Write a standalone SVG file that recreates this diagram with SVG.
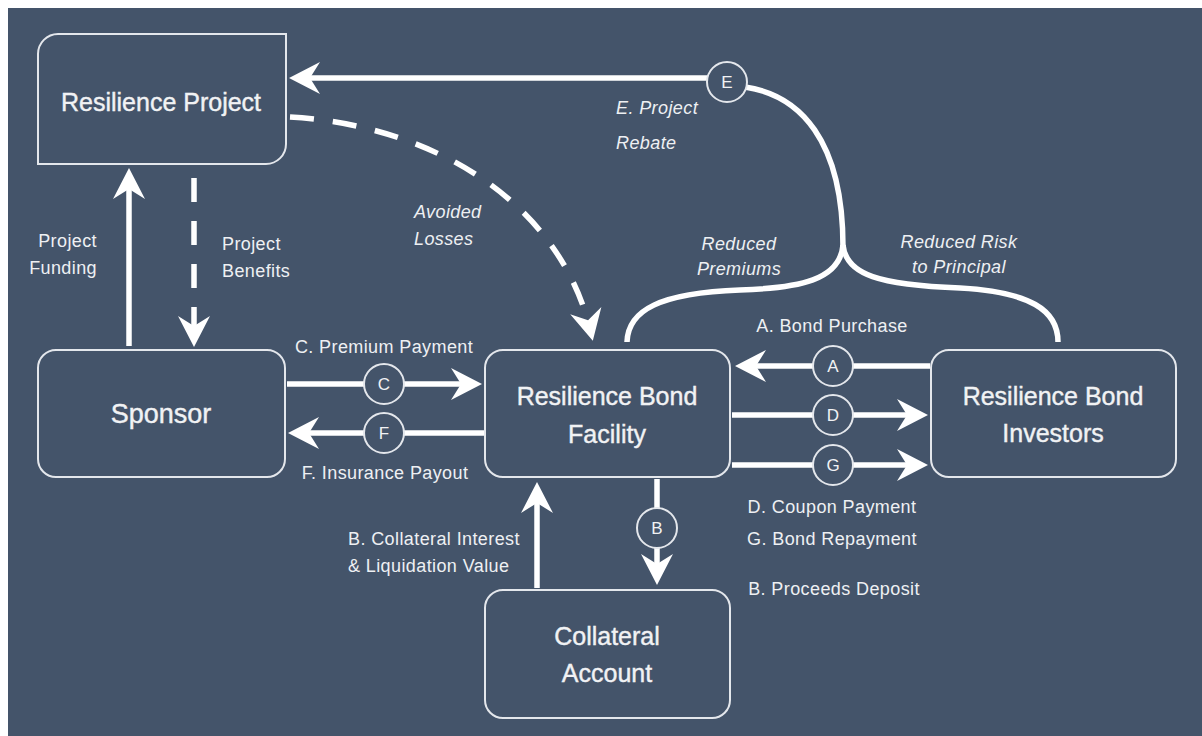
<svg xmlns="http://www.w3.org/2000/svg" width="1202" height="736" viewBox="0 0 1202 736">
<defs>
<style>
.bg{fill:#44546a}
.box{fill:#44546a;stroke:#e4e7ec;stroke-width:2}
.title{font-family:"Liberation Sans",Arial,sans-serif;font-size:25px;fill:#f1f2f4;stroke:#f1f2f4;stroke-width:0.4;text-anchor:middle}
.lbl{font-family:"Liberation Sans",Arial,sans-serif;font-size:18px;fill:#eef0f3;letter-spacing:0.4px}
.it{font-style:italic}
.mid{text-anchor:middle}
.end{text-anchor:end}
.ln{fill:none;stroke:#ffffff;stroke-width:5.5}
.dash{stroke-dasharray:24 19}
.circ{fill:#44546a;stroke:#e4e7ec;stroke-width:2}
.cl{font-family:"Liberation Sans",Arial,sans-serif;font-size:17px;fill:#f1f2f4;text-anchor:middle}
</style>
<marker id="ah" markerUnits="userSpaceOnUse" markerWidth="60" markerHeight="60" refX="0" refY="0" viewBox="-30 -30 60 60" orient="auto" overflow="visible">
<path d="M8,0 L-23,-16 L-13,0 L-23,16 Z" fill="#ffffff"/>
</marker>
</defs>
<rect class="bg" x="8" y="8" width="1194" height="728"/>

<g id="connectors">
<!-- Project Funding -->
<path class="ln" d="M129,346 L129,176" marker-end="url(#ah)"/>
<!-- Project Benefits -->
<path class="ln dash" d="M194,178 L194,339" marker-end="url(#ah)"/>
<!-- Avoided Losses -->
<path class="ln dash" d="M290,117 C430,125 560,200 591,333" marker-end="url(#ah)"/>
<!-- E. Project Rebate -->
<path class="ln" d="M727,78 L297,78" marker-end="url(#ah)"/>
<path class="ln" d="M745,87 C800,95 843,140 843,247"/>
<path class="ln" d="M843,245 C840,280 800,288 740,290 C660,293 628,310 627,342"/>
<path class="ln" d="M843,245 C846,275 880,285 960,288 C1030,292 1058,310 1058,342"/>
<!-- C -->
<path class="ln" d="M287,384 L474,384" marker-end="url(#ah)"/>
<!-- F -->
<path class="ln" d="M484,433 L296,433" marker-end="url(#ah)"/>
<!-- A -->
<path class="ln" d="M930,366 L743,366" marker-end="url(#ah)"/>
<!-- D -->
<path class="ln" d="M732,415 L920,415" marker-end="url(#ah)"/>
<!-- G -->
<path class="ln" d="M732,465 L920,465" marker-end="url(#ah)"/>
<!-- B down -->
<path class="ln" d="M657,479 L657,577" marker-end="url(#ah)"/>
<!-- B up -->
<path class="ln" d="M537,588 L537,490" marker-end="url(#ah)"/>

<circle class="circ" cx="727" cy="82" r="20"/><text class="cl" x="727" y="88">E</text>
<circle class="circ" cx="384" cy="384" r="20"/><text class="cl" x="384" y="390">C</text>
<circle class="circ" cx="384" cy="433" r="20"/><text class="cl" x="384" y="439">F</text>
<circle class="circ" cx="833" cy="366" r="20"/><text class="cl" x="833" y="372">A</text>
<circle class="circ" cx="833" cy="415" r="20"/><text class="cl" x="833" y="421">D</text>
<circle class="circ" cx="833" cy="465" r="20"/><text class="cl" x="833" y="471">G</text>
<circle class="circ" cx="657" cy="528" r="20"/><text class="cl" x="657" y="534">B</text>

<text class="lbl end" x="97" y="247">Project</text>
<text class="lbl end" x="97" y="274">Funding</text>
<text class="lbl" x="222" y="250">Project</text>
<text class="lbl" x="222" y="277">Benefits</text>
<text class="lbl it" x="414" y="218">Avoided</text>
<text class="lbl it" x="414" y="245">Losses</text>
<text class="lbl it" x="616" y="114">E. Project</text>
<text class="lbl it" x="616" y="149">Rebate</text>
<text class="lbl it mid" x="739" y="250">Reduced</text>
<text class="lbl it mid" x="739" y="275">Premiums</text>
<text class="lbl it mid" x="959" y="248">Reduced Risk</text>
<text class="lbl it mid" x="959" y="273">to Principal</text>
<text class="lbl mid" x="832" y="332">A. Bond Purchase</text>
<text class="lbl mid" x="384" y="353">C. Premium Payment</text>
<text class="lbl mid" x="385" y="479">F. Insurance Payout</text>
<text class="lbl" x="348" y="545">B. Collateral Interest</text>
<text class="lbl" x="348" y="572">&amp; Liquidation Value</text>
<text class="lbl mid" x="832" y="513">D. Coupon Payment</text>
<text class="lbl mid" x="832" y="545">G. Bond Repayment</text>
<text class="lbl mid" x="834" y="595">B. Proceeds Deposit</text>
</g>

<g id="resilience-project">
<path class="box" d="M38,54 A20,20 0 0 1 58,34 L286,34 L286,144 A20,20 0 0 1 266,164 L38,164 Z"/>
<text class="title" x="161" y="111">Resilience Project</text>
</g>
<g id="sponsor">
<rect class="box" x="38" y="350" width="247" height="127" rx="18"/>
<text class="title" x="161" y="423" style="font-size:27px">Sponsor</text>
</g>
<g id="facility">
<rect class="box" x="485" y="350" width="245" height="127" rx="18"/>
<text class="title" x="607" y="405">Resilience Bond</text>
<text class="title" x="607" y="443">Facility</text>
</g>
<g id="investors">
<rect class="box" x="931" y="350" width="245" height="127" rx="18"/>
<text class="title" x="1053" y="405">Resilience Bond</text>
<text class="title" x="1053" y="442">Investors</text>
</g>
<g id="collateral">
<rect class="box" x="485" y="590" width="245" height="128" rx="18"/>
<text class="title" x="607" y="645">Collateral</text>
<text class="title" x="607" y="682">Account</text>
</g>
</svg>
